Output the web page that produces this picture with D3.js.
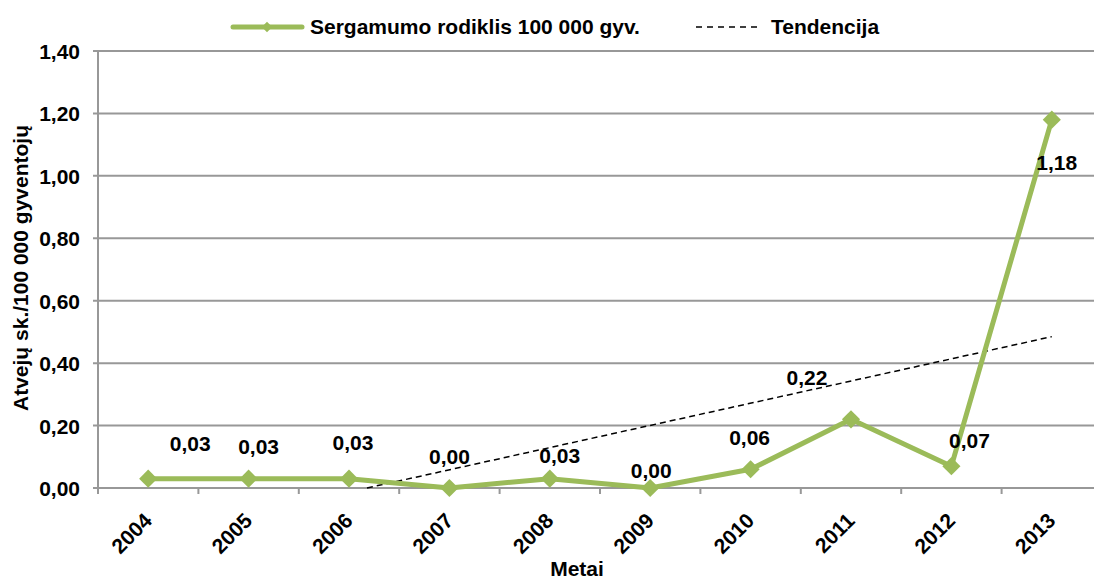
<!DOCTYPE html>
<html>
<head>
<meta charset="utf-8">
<script src="https://cdn.jsdelivr.net/npm/d3@7/dist/d3.min.js"></script>
<style>
  html, body { margin: 0; padding: 0; background: #fff; }
  svg { display: block; }
  text { font-family: "Liberation Sans", Arial, sans-serif; font-weight: bold; fill: #000; }
</style>
</head>
<body>
<svg id="chart" width="1094" height="580"></svg>
<script>
// ---- data ----
const years = ["2004","2005","2006","2007","2008","2009","2010","2011","2012","2013"];
const rates = [0.03, 0.03, 0.03, 0.00, 0.03, 0.00, 0.06, 0.22, 0.07, 1.18];
const yTicks = [0, 0.2, 0.4, 0.6, 0.8, 1.0, 1.2, 1.4];
const seriesName = "Sergamumo rodiklis 100 000 gyv.";
const trendName = "Tendencija";
const xTitle = "Metai";
const yTitle = "Atvejų sk./100 000 gyventojų";

// label placement offsets (layout, px)
const labelDx = [42, 10, 4, 0, 10, 1, -1, -44, 18, 5];
const labelDy = [-28, -25, -29, -24, -16, -10, -24, -34, -18, 50];

const FS = 21;
const svg = d3.select("#chart");
const M = { left: 98, right: 1102, top: 51, bottom: 488 };
const fmt = v => d3.format(".2f")(v).replace(".", ",");

const x = d3.scaleBand().domain(years).range([M.left, M.right]);
const y = d3.scaleLinear().domain([0, 1.4]).range([M.bottom, M.top]);
const cx = d => x(d) + x.bandwidth() / 2;

// gridlines
svg.append("g").selectAll("line").data(yTicks).join("line")
  .attr("x1", M.left - 5).attr("x2", M.right)
  .attr("y1", d => y(d)).attr("y2", d => y(d))
  .attr("stroke", "#989898").attr("stroke-width", 2);

// y axis line
svg.append("line").attr("x1", M.left).attr("x2", M.left)
  .attr("y1", M.top).attr("y2", M.bottom + 6)
  .attr("stroke", "#989898").attr("stroke-width", 2);

// x tick marks at band boundaries
const bounds = years.map(d => x(d)).concat([M.right]);
svg.append("g").selectAll("line").data(bounds.slice(1)).join("line")
  .attr("x1", d => d).attr("x2", d => d)
  .attr("y1", M.bottom).attr("y2", M.bottom + 6)
  .attr("stroke", "#989898").attr("stroke-width", 2);

// y tick labels
svg.append("g").selectAll("text").data(yTicks).join("text")
  .attr("x", 80).attr("y", d => y(d) + 8)
  .attr("text-anchor", "end").attr("font-size", FS)
  .text(fmt);

// x tick labels
svg.append("g").selectAll("text").data(years).join("text")
  .attr("transform", d => `translate(${cx(d) + 5},${M.bottom + 34}) rotate(-45)`)
  .attr("text-anchor", "end").attr("font-size", FS)
  .text(d => d);

// axis titles
svg.append("text").attr("x", 577).attr("y", 576)
  .attr("text-anchor", "middle").attr("font-size", FS).text(xTitle);
svg.append("text")
  .attr("transform", `translate(28,268) rotate(-90)`)
  .attr("text-anchor", "middle").attr("font-size", FS).text(yTitle);

// trend line (least squares on the series)
const n = rates.length;
const xs = d3.range(1, n + 1);
const mx = d3.mean(xs), my = d3.mean(rates);
const slope = d3.sum(xs, (xi, i) => (xi - mx) * (rates[i] - my)) / d3.sum(xs, xi => (xi - mx) ** 2);
const icpt = my - slope * mx;
const x0 = Math.max(1, -icpt / slope);
const idxToPx = k => x(years[0]) + x.bandwidth() / 2 + (k - 1) * x.step();
svg.append("line")
  .attr("x1", idxToPx(x0)).attr("y1", y(slope * x0 + icpt))
  .attr("x2", idxToPx(n)).attr("y2", y(slope * n + icpt))
  .attr("stroke", "#000").attr("stroke-width", 1.5)
  .attr("stroke-dasharray", "6,4");

// series line
const green = "#9BBB59";
svg.append("path").datum(rates)
  .attr("d", d3.line().x((d, i) => cx(years[i])).y(d => y(d)))
  .attr("fill", "none").attr("stroke", green).attr("stroke-width", 5)
  .attr("stroke-linejoin", "round");

// markers
const diamond = d3.symbol().type(d3.symbolDiamond2).size(210);
svg.append("g").selectAll("path").data(rates).join("path")
  .attr("transform", (d, i) => `translate(${cx(years[i])},${y(d)})`)
  .attr("d", diamond).attr("fill", green);

// data labels
svg.append("g").selectAll("text").data(rates).join("text")
  .attr("x", (d, i) => cx(years[i]) + labelDx[i])
  .attr("y", (d, i) => y(d) + labelDy[i])
  .attr("text-anchor", "middle").attr("font-size", FS)
  .text(fmt);

// legend
const lg = svg.append("g");
lg.append("line").attr("x1", 233).attr("x2", 302).attr("y1", 27).attr("y2", 27)
  .attr("stroke", green).attr("stroke-width", 5).attr("stroke-linecap", "round");
lg.append("path").attr("transform", "translate(267,27)")
  .attr("d", d3.symbol().type(d3.symbolDiamond2).size(70)).attr("fill", green);
lg.append("text").attr("x", 310).attr("y", 34).attr("font-size", FS).text(seriesName);
lg.append("line").attr("x1", 696).attr("x2", 757).attr("y1", 27).attr("y2", 27)
  .attr("stroke", "#000").attr("stroke-width", 1.5).attr("stroke-dasharray", "6,5");
lg.append("text").attr("x", 771).attr("y", 34).attr("font-size", FS).text(trendName);
</script>
</body>
</html>
